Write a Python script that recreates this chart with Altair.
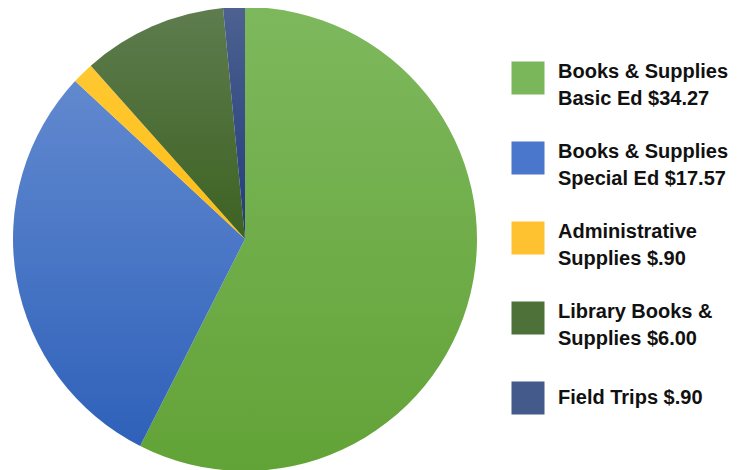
import altair as alt
import pandas as pd

categories = ["Basic Ed", "Special Ed", "Administrative", "Library", "Field Trips"]
labels = [
    "Books & Supplies\nBasic Ed $34.27",
    "Books & Supplies\nSpecial Ed $17.57",
    "Administrative\nSupplies $.90",
    "Library Books &\nSupplies $6.00",
    "Field Trips $.90",
]
values = [34.27, 17.57, 0.90, 6.00, 0.90]
line_counts = [2, 2, 2, 2, 1]
legend_colors = ["#7AB65A", "#4A77CB", "#FEC230", "#4E7039", "#445A8A"]
slice_top = ["#7EB85D", "#6189CF", "#FFC832", "#5E7C4E", "#4D6290"]
slice_bottom = ["#62A337", "#2F61BA", "#FFBD14", "#3D6222", "#213A7B"]

df = pd.DataFrame({
    "cat": categories,
    "label": labels,
    "value": values,
    "idx": list(range(len(categories))),
    "lines": line_counts,
})


def grad(top, bottom):
    return {
        "gradient": "linear",
        "x1": 0, "y1": 0, "x2": 0, "y2": 1,
        "stops": [{"offset": 0, "color": top}, {"offset": 1, "color": bottom}],
    }


conds = [
    {"test": f"datum.idx == {i}", "value": grad(slice_top[i], slice_bottom[i])}
    for i in range(len(categories) - 1)
]
last = len(categories) - 1
arc_color = {"condition": conds, "value": grad(slice_top[last], slice_bottom[last])}

base = alt.Chart(df)

pie = base.mark_arc(outerRadius=232, stroke=None).encode(
    theta=alt.Theta("value:Q", stack=True),
    order=alt.Order("idx:Q"),
    color=arc_color,
    x=alt.value(237),
    y=alt.value(231),
)

yenc = alt.Y("idx:Q", scale=alt.Scale(domain=[0, 4], range=[70, 390]), axis=None)

squares = base.mark_square(size=1089, opacity=1, strokeWidth=0).encode(
    x=alt.value(520),
    y=yenc,
    color=alt.Color("cat:N", scale=alt.Scale(domain=categories, range=legend_colors), legend=None),
)

text_style = dict(
    align="left",
    baseline="middle",
    font="Liberation Sans Narrow, Arial Narrow, Liberation Sans, Arial",
    fontWeight="bold",
    fontSize=20,
    lineHeight=27,
    lineBreak="\n",
    color="#111111",
)

text2 = base.transform_filter("datum.lines == 2").mark_text(dy=-6, **text_style).encode(
    x=alt.value(550), y=yenc, text="label:N"
)
text1 = base.transform_filter("datum.lines == 1").mark_text(dy=0, **text_style).encode(
    x=alt.value(550), y=yenc, text="label:N"
)

chart = alt.layer(pie, squares, text2, text1).properties(
    width=730, height=462, padding=0,
    autosize=alt.AutoSizeParams(type="none"),
).configure_view(stroke=None)

chart.save("out.html", embed_options={"renderer": "svg", "actions": False})
